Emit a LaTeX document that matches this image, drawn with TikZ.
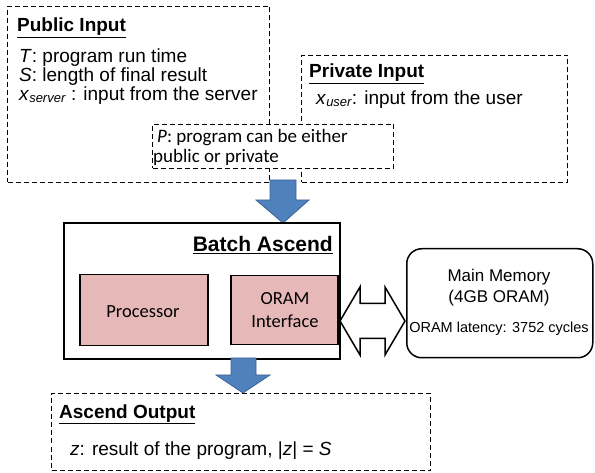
\documentclass[tikz,border=0pt]{standalone}
\usepackage{fontspec}
\setmainfont{Liberation Sans}
\newfontfamily\calibrifont{Carlito}
\definecolor{pinkc}{HTML}{E6B9B8}
\definecolor{blueA}{HTML}{4F81BD}
\definecolor{blueB}{HTML}{3A6595}
\begin{document}
\begin{tikzpicture}[x=1pt,y=-1pt,
  dashbox/.style={draw, dash pattern=on 5pt off 3pt, line width=1pt, anchor=north west, inner sep=0pt},
  solidbox/.style={draw, line width=1.8pt, anchor=north west, inner sep=0pt},
  pinkbox/.style={draw, fill=pinkc, line width=1.5pt, anchor=north west, inner sep=0pt},
  membox/.style={draw, line width=1.5pt, rounded corners=15pt, anchor=north west, inner sep=0pt},
  bluearrow/.style={fill=blueA, draw=blueB, line width=0.8pt},
  whitearrow/.style={fill=white, draw=black, line width=1.5pt, line join=miter},
  txt/.style={anchor=base west, inner sep=0pt, font=\fontsize{19}{22}\selectfont},
  ctxt/.style={anchor=base, inner sep=0pt, font=\fontsize{17}{20}\selectfont},
  cal/.style={anchor=base, inner sep=0pt, font=\calibrifont\fontsize{18.5}{22}\selectfont},
  hd/.style={inner sep=0pt, font=\bfseries\fontsize{19}{22}\selectfont}
]
\useasboundingbox (0,0) rectangle (595,473);

% Public input
\node[dashbox, minimum width=262pt, minimum height=176pt] (pub) at (7,6) {};
\node[hd, anchor=base west] (pubh) at (17,32) {\underline{Public Input}};
\node[txt] (pubT) at (19,63) {\textit{T}: program run time};
\node[txt] (pubS) at (19,82) {\textit{S}: length of final result};
\node[txt] (pubX) at (19,101) {\textit{x}\raisebox{-1.5pt}{\fontsize{13}{13}\selectfont\textit{server}} : input from the server};

% Private input
\node[dashbox, minimum width=266pt, minimum height=127pt] (priv) at (301,55) {};
\node[hd, anchor=base west] (privh) at (309,78) {\underline{Private Input}};
\node[txt] (privX) at (316,105) {\textit{x}\raisebox{-1.5pt}{\fontsize{13}{13}\selectfont\textit{user}}: input from the user};

% Program box
\node[dashbox, fill=white, minimum width=241pt, minimum height=44pt] (prog) at (152,124) {};
\node[anchor=base west, inner sep=0pt, font=\calibrifont\fontsize{19}{22}\selectfont] (prog1) at (157,143) {\textit{P}: program can be either};
\node[anchor=base west, inner sep=0pt, font=\calibrifont\fontsize{19}{22}\selectfont] (prog2) at (153,163) {public or private};

% Top blue arrow
\draw[bluearrow] (270,180) -- (296,180) -- (296,200) -- (309,200) -- (283,223) -- (256,200) -- (270,200) -- cycle;

% Batch Ascend
\node[solidbox, minimum width=276pt, minimum height=136pt] (batch) at (63,222) {};
\node[inner sep=0pt, anchor=base east, font=\bfseries\fontsize{21}{24}\selectfont] (batchh) at (333,252) {\underline{Batch Ascend}};
\node[pinkbox, minimum width=128pt, minimum height=71pt] (proc) at (79,274) {};
\node[cal] (proct) at (143,318) {Processor};
\node[pinkbox, minimum width=107pt, minimum height=69pt] (oram) at (230,275) {};
\node[cal] (oram1) at (285,305) {ORAM};
\node[cal] (oram2) at (285,327) {Interface};

% Double arrow
\draw[whitearrow] (340,321) -- (360,287) -- (360,303.5) -- (385,303.5) -- (385,287) -- (405,321) -- (385,355) -- (385,338.5) -- (360,338.5) -- (360,355) -- cycle;

% Main memory
\node[membox, minimum width=186pt, minimum height=109pt] (mem) at (406,248) {};
\node[ctxt] (mem1) at (499,282) {Main Memory};
\node[ctxt] (mem2) at (499,303) {(4GB ORAM)};
\node[anchor=base, inner sep=0pt, font=\fontsize{14.5}{17}\selectfont] (mem3) at (499,333) {ORAM latency: 3752 cycles};

% Bottom blue arrow
\draw[bluearrow] (231,358) -- (256,358) -- (256,375) -- (270,375) -- (243,393) -- (216,375) -- (231,375) -- cycle;

% Output
\node[dashbox, minimum width=379pt, minimum height=77pt] (out) at (51,393) {};
\node[hd, anchor=base west] (outh) at (59,418) {\underline{Ascend Output}};
\node[txt] (outz) at (70,455) {\textit{z}: result of the program, |\textit{z}| = \textit{S}};
\end{tikzpicture}
\end{document}
